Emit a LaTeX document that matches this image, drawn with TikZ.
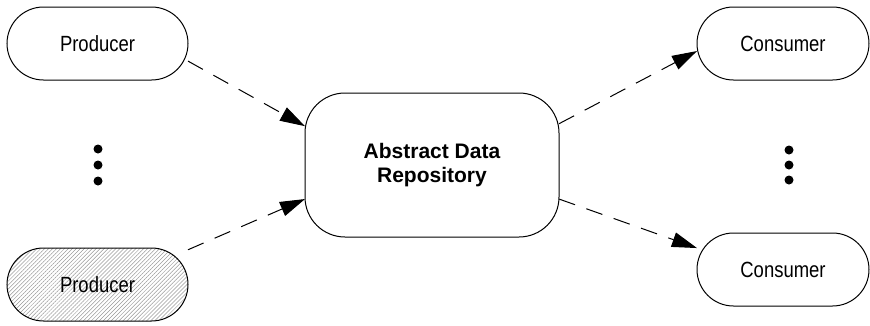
\documentclass[tikz,border=0pt]{standalone}
\usepackage{fontspec}
\setmainfont{Liberation Sans}
\newfontfamily\narrowfont{Liberation Sans}[FakeStretch=0.84]
\usetikzlibrary{arrows.meta,patterns.meta}
\begin{document}
\begin{tikzpicture}[x=1pt,y=-1pt,
  every node/.style={inner sep=0pt, outer sep=0pt},
  pill/.style={draw, line width=1pt, rectangle, rounded corners=36.5pt,
    minimum width=181pt, minimum height=73pt,
    font=\narrowfont\fontsize{22}{26}\selectfont},
  cpill/.style={pill, minimum width=172pt},
  repo/.style={draw, line width=1pt, rectangle, rounded corners=40pt,
    minimum width=254pt, minimum height=144pt, align=center,
    font=\bfseries\fontsize{21}{24}\selectfont},
  hatched/.style={pattern={Lines[angle=45,distance=2.8pt,line width=0.5pt]},
    pattern color=black!40},
  dot/.style={circle, fill, minimum size=9pt},
  flow/.style={line width=1pt, dash pattern=on 17pt off 12pt,
    -{Triangle[length=25pt,width=15pt]}}
]
\useasboundingbox (0,0) rectangle (870,325);

% producers, repository and consumers
\node[pill] (p1) at (97.5,43.5) {Producer};
\node[pill, hatched] (p2) at (97.5,284.5) {Producer};
\node[repo] (r) at (432,165) {Abstract Data\\Repository};
\node[cpill] (c1) at (783,43.5) {Consumer};
\node[cpill] (c2) at (783,269.5) {Consumer};

% ellipsis dots
\node[dot] (l1) at (98,149) {};
\node[dot] (l2) at (98,165) {};
\node[dot] (l3) at (98,181) {};
\node[dot] (k1) at (789,150) {};
\node[dot] (k2) at (789,165) {};
\node[dot] (k3) at (789,180) {};

% data flows
\draw[flow] (p1.-11) -- (r.163);
\draw[flow] (p2.21) -- (r.195);
\draw[flow] (r.18) -- (c1.185);
\draw[flow] (r.-15) -- (c2.166);
\end{tikzpicture}
\end{document}
